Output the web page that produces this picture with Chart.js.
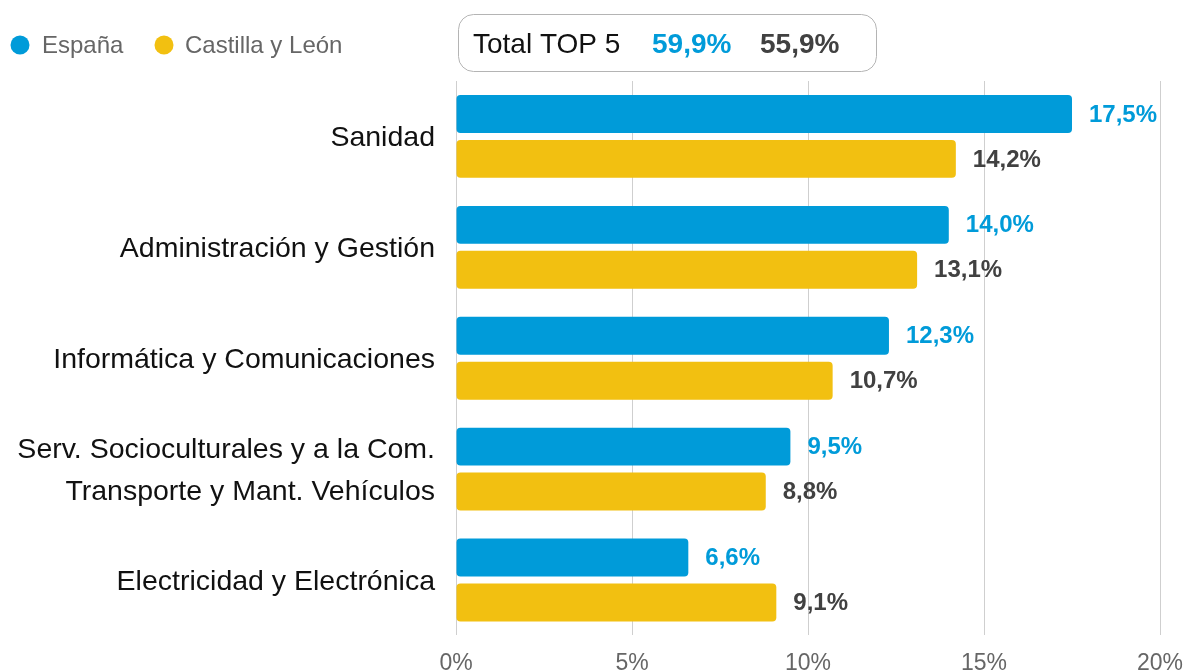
<!DOCTYPE html>
<html lang="es">
<head>
<meta charset="utf-8">
<title>TOP 5 familias profesionales</title>
<script src="https://cdn.jsdelivr.net/npm/chart.js@4.4.1/dist/chart.umd.min.js"></script>
<style>
    html, body { margin: 0; padding: 0; background: #fff; }
    #wrap { position: relative; width: 1189px; height: 670px; }
</style>
</head>
<body>
<div id="wrap"><canvas id="top5-chart"></canvas></div>
<script>
// ========== Data ==========

const categories = [
    'Sanidad',
    'Administración y Gestión',
    'Informática y Comunicaciones',
    ['Serv. Socioculturales y a la Com.', 'Transporte y Mant. Vehículos'],
    'Electricidad y Electrónica'
];
const espanaValues = [17.5, 14.0, 12.3, 9.5, 6.6];
const cylValues = [14.2, 13.1, 10.7, 8.8, 9.1];
const seriesNames = ['España', 'Castilla y León'];
const xTicks = [0, 5, 10, 15, 20];

const BLUE = '#009bd9';
const YELLOW = '#f2c011';
const DARK = '#414141';
const FONT = '"Liberation Sans", Arial, sans-serif';

const fmt = v => v.toFixed(1).replace('.', ',') + '%';
const sum = arr => arr.reduce((s, v) => s + v, 0);

// ========== Plugins ==========

// Value labels at the end of each bar
const valueLabels = {
    id: 'valueLabels',
    afterDatasetsDraw(chart) {
        const ctx = chart.ctx;
        ctx.save();
        ctx.font = `bold 24px ${FONT}`;
        ctx.textBaseline = 'middle';
        ctx.textAlign = 'left';
        chart.data.datasets.forEach((ds, di) => {
            const meta = chart.getDatasetMeta(di);
            ctx.fillStyle = ds.labelColor;
            meta.data.forEach((bar, i) => {
                ctx.fillText(fmt(ds.data[i]), bar.x + 17, bar.y + 1);
            });
        });
        ctx.restore();
    }
};

// Custom legend on the left + "Total TOP 5" box
const headerBox = {
    id: 'headerBox',
    afterDraw(chart) {
        const ctx = chart.ctx;
        const ds = chart.data.datasets;
        ctx.save();
        ctx.textBaseline = 'middle';

        // legend
        ctx.font = `24px ${FONT}`;
        const legendPos = [{ cx: 20, tx: 42 }, { cx: 164, tx: 185 }];
        ds.forEach((d, i) => {
            ctx.fillStyle = d.backgroundColor;
            ctx.beginPath();
            ctx.arc(legendPos[i].cx, 45, 9.5, 0, Math.PI * 2);
            ctx.fill();
            ctx.fillStyle = '#666';
            ctx.fillText(d.label, legendPos[i].tx, 46);
        });

        // total box
        ctx.strokeStyle = '#b4b4b4';
        ctx.lineWidth = 1;
        ctx.beginPath();
        ctx.roundRect(458.5, 14.5, 418, 57, 15);
        ctx.stroke();

        ctx.font = `28px ${FONT}`;
        ctx.fillStyle = '#111';
        ctx.fillText('Total TOP 5', 473, 45);
        ctx.font = `bold 28px ${FONT}`;
        ctx.fillStyle = BLUE;
        ctx.fillText(fmt(sum(ds[0].data)), 652, 45);
        ctx.fillStyle = DARK;
        ctx.fillText(fmt(sum(ds[1].data)), 760, 45);
        ctx.restore();
    }
};

// ========== Chart ==========

const ctx = document.getElementById('top5-chart').getContext('2d');
const chart = new Chart(ctx, {
    type: 'bar',
    data: {
        labels: categories,
        datasets: [
            {
                label: seriesNames[0],
                data: espanaValues,
                backgroundColor: BLUE,
                labelColor: BLUE,
                borderRadius: 4,
                borderSkipped: false,
                categoryPercentage: 0.81,
                barPercentage: 0.845
            },
            {
                label: seriesNames[1],
                data: cylValues,
                backgroundColor: YELLOW,
                labelColor: DARK,
                borderRadius: 4,
                borderSkipped: false,
                categoryPercentage: 0.81,
                barPercentage: 0.845
            }
        ]
    },
    options: {
        indexAxis: 'y',
        responsive: true,
        maintainAspectRatio: false,
        animation: false,
        layout: { padding: { top: 81, right: 29, bottom: -21, left: 0 } },
        plugins: {
            legend: { display: false },
            tooltip: { enabled: false }
        },
        scales: {
            x: {
                min: 0,
                max: 20,
                afterBuildTicks: scale => { scale.ticks = xTicks.map(v => ({ value: v })); },
                afterFit: scale => { scale.paddingLeft = 0; scale.paddingRight = 0; },
                ticks: {
                    color: '#666',
                    padding: 14,
                    font: { family: FONT, size: 23 },
                    callback: v => v + '%'
                },
                grid: { color: '#cfcfcf', drawTicks: false },
                border: { display: false }
            },
            y: {
                afterFit: scale => { scale.width = 456; },
                ticks: {
                    color: '#111',
                    padding: 13,
                    labelOffset: 2,
                    font: { family: FONT, size: 28.5, lineHeight: 1.5 }
                },
                grid: { display: false },
                border: { display: false }
            }
        }
    },
    plugins: [valueLabels, headerBox]
});
</script>
</body>
</html>
